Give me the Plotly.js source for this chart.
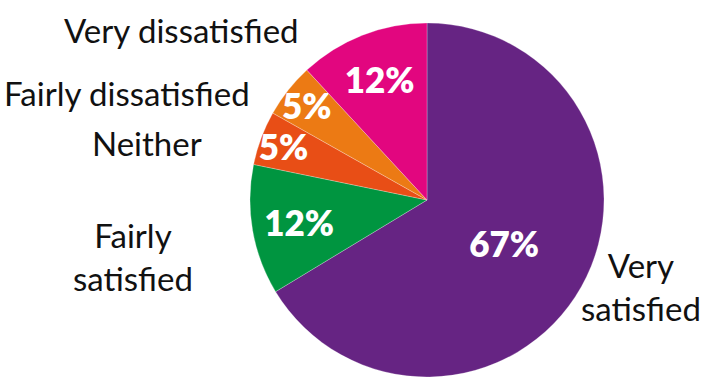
<!DOCTYPE html>
<html>
<head>
<meta charset="utf-8">
<script src="https://cdn.plot.ly/plotly-3.0.1.min.js"></script>
<style>html,body{margin:0;padding:0;background:#fff;}#chart{width:702px;height:377px;}</style>
</head>
<body>
<div id="chart"></div>
<script>
const categories = ["Very satisfied", "Fairly satisfied", "Neither", "Fairly dissatisfied", "Very dissatisfied"];
const values = [67, 12, 5, 5, 12];
const percentText = ["67%", "12%", "5%", "5%", "12%"];
const labelText = ["Very<br>satisfied", "Fairly<br>satisfied", "Neither", "Fairly dissatisfied", "Very dissatisfied"];
const colors = ["#662483", "#009540", "#E84E16", "#EC7A14", "#E2067F"];

// label anchor positions (paper coords)
const labelPos = [
  {x: 641/702, y: 1 - 286/377},
  {x: 133/702, y: 1 - 256/377},
  {x: 147/702, y: 1 - 143/377},
  {x: 127/702, y: 1 - 93/377},
  {x: 181/702, y: 1 - 30/377}
];

const trace = {
  type: "pie",
  labels: categories,
  values: values,
  text: percentText,
  textinfo: "text",
  textposition: "inside",
  insidetextorientation: "horizontal",
  insidetextfont: {family: "Lato, 'Open Sans', sans-serif", size: 35, color: "#ffffff", weight: 800},
  marker: {colors: colors, line: {color: "rgba(255,255,255,0.5)", width: 0.5}},
  sort: false,
  direction: "clockwise",
  rotation: 0,
  hole: 0,
  domain: {x: [250/702, 604/702], y: [0, 1 - 23/377]},
  showlegend: false,
  hoverinfo: "label+text"
};

const annotations = categories.map((c, i) => ({
  x: labelPos[i].x, y: labelPos[i].y, xref: "paper", yref: "paper",
  text: labelText[i], showarrow: false, xanchor: "center", yanchor: "middle",
  align: "center",
  font: {family: "Lato, 'Open Sans', sans-serif", size: 33, color: "#111111"}
}));

const layout = {
  width: 702, height: 377,
  margin: {l: 0, r: 0, t: 0, b: 0},
  paper_bgcolor: "#ffffff",
  showlegend: false,
  uniformtext: {minsize: 35, mode: "show"},
  annotations: annotations
};

Plotly.newPlot("chart", [trace], layout, {displayModeBar: false, staticPlot: true});
</script>
</body>
</html>
